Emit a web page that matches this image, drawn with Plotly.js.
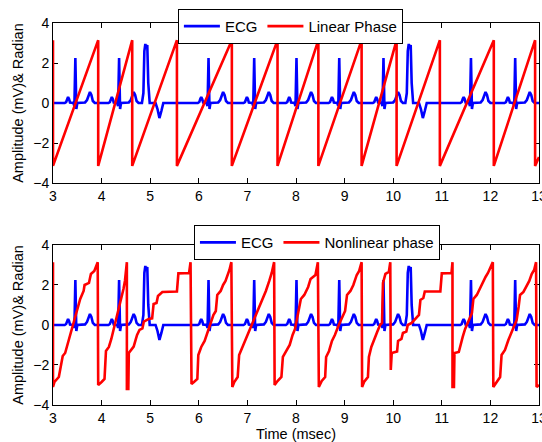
<!DOCTYPE html>
<html>
<head>
<meta charset="utf-8">
<script src="https://cdn.plot.ly/plotly-3.0.1.min.js"></script>
<style>html,body{margin:0;padding:0;background:#fff;}#chart{width:542px;height:442px;}</style>
</head>
<body>
<div id="chart"></div>
<script>
// ---- data ----
const xTickVals = [3, 4, 5, 6, 7, 8, 9, 10, 11, 12, 13];
const yTickVals = [-4, -2, 0, 2, 4];

// ECG: times of normal beats (R peaks) and of ectopic (wide) beats, msec axis units
const normalBeatTimes = [3.46, 4.36, 6.2, 7.14, 8.01, 8.89, 9.80, 11.6, 12.51];
const ectopicBeatTimes = [4.91, 10.33];
// shape of one normal beat: offset from R peak and amplitude (mV)
const normalBeatDt = [-0.22, -0.19, -0.17, -0.15, -0.13, -0.11, -0.04, -0.02, 0, 0.02, 0.04, 0.07, 0.2, 0.24, 0.27, 0.3, 0.33, 0.36, 0.4];
const normalBeatMv = [0, 0.05, 0.2, 0.3, 0.2, 0.02, 0, -0.15, 2.25, -0.3, 0, 0, 0.03, 0.15, 0.4, 0.55, 0.4, 0.1, 0];
// shape of one ectopic beat
const ectopicBeatDt = [-0.08, -0.05, -0.03, -0.01, 0.01, 0.03, 0.05, 0.08, 0.2, 0.24, 0.28, 0.32, 0.36];
const ectopicBeatMv = [0, 0.5, 2.6, 2.95, 2.75, 2.9, 1.0, 0, 0, -0.3, -0.75, -0.4, 0];

// Linear phase: wrap times (phase jumps from +pi to -pi)
const linearWrapTimes = [3.0, 3.93, 4.63, 5.55, 6.68, 7.62, 8.46, 9.35, 10.07, 10.96, 12.07, 12.92];
const linearEndTime = 13.0;
const linearEndPhase = -2.7;

// Nonlinear phase: vertices
const nonlinTime = [
  3.0, 3.0, 3.03, 3.12, 3.2, 3.25, 3.56, 3.6, 3.63, 3.65, 3.74, 3.78, 3.85, 3.92,
  3.93, 4.0, 4.06, 4.09, 4.15, 4.2, 4.28, 4.4, 4.45, 4.48, 4.5, 4.52,
  4.52, 4.55, 4.56, 4.6, 4.66, 4.7, 4.73, 4.78, 4.84, 4.87, 4.97, 5.04, 5.07, 5.13, 5.16, 5.25, 5.55, 5.58, 5.8, 5.83,
  5.85, 5.9, 5.97, 5.99, 6.05, 6.12, 6.18, 6.25, 6.3, 6.35, 6.38, 6.45, 6.5, 6.55, 6.6, 6.63, 6.67,
  6.69, 6.73, 6.8, 6.83, 6.9, 6.95, 7.05, 7.1, 7.2, 7.3, 7.38, 7.45, 7.5, 7.55,
  7.56, 7.62, 7.7, 7.73, 7.8, 7.87, 7.93, 7.98, 8.02, 8.1, 8.17, 8.25, 8.3, 8.4, 8.45,
  8.47, 8.53, 8.6, 8.62, 8.68, 8.74, 8.8, 8.88, 8.95, 9.01, 9.05, 9.12, 9.18, 9.25, 9.3, 9.35,
  9.36, 9.4, 9.48, 9.5, 9.55, 9.6, 9.67, 9.73, 9.77, 9.79, 9.84, 9.91, 9.94,
  9.95, 9.97, 10.08, 10.1, 10.17, 10.2, 10.27, 10.3, 10.38, 10.45, 10.53, 10.56, 10.62, 10.65, 10.97, 11.0, 11.2, 11.22,
  11.22, 11.25, 11.26, 11.35, 11.38, 11.43, 11.48, 11.55, 11.62, 11.65, 11.72, 11.78, 11.85, 11.9, 11.95, 12.05,
  12.06, 12.13, 12.2, 12.23, 12.3, 12.37, 12.47, 12.54, 12.58, 12.61, 12.68, 12.75, 12.8, 12.85, 12.9, 12.94,
  12.95, 13.0
];
const nonlinPhase = [
  3.14, -3.1, -2.85, -2.6, -1.55, -1.4, 1.3, 1.5, 1.7, 2.0, 2.1, 2.55, 2.7, 3.14,
  -3.0, -2.85, -2.7, -1.3, -1.1, -0.7, 0.1, 1.2, 1.8, 2.2, 2.6, 3.14,
  -3.2, -3.2, -1.4, -1.25, -1.08, -0.75, -0.5, -0.25, -0.17, 0.17, 0.3, 0.33, 1.05, 1.1, 1.45, 1.65, 1.67, 2.58, 2.6, 3.14,
  -2.95, -2.85, -2.7, -1.5, -1.1, -0.8, -0.4, 0.1, 0.5, 0.7, 1.5, 1.7, 2.0, 2.2, 2.5, 2.75, 3.14,
  -3.1, -2.85, -2.6, -1.5, -1.1, -0.8, -0.2, 0.1, 0.6, 1.2, 1.7, 2.2, 2.6, 3.14,
  -3.0, -2.8, -2.6, -1.6, -1.3, -1.0, -0.5, -0.2, 0.3, 1.3, 1.5, 1.9, 2.3, 2.5, 3.14,
  -3.1, -2.8, -2.6, -1.6, -1.3, -0.8, -0.5, 0, 0.4, 0.7, 1.5, 1.7, 2.0, 2.5, 2.7, 3.14,
  -3.1, -2.85, -2.6, -1.6, -1.1, -0.75, -0.35, 0, 0.1, 2.1, 2.55, 2.65, 3.14,
  -2.25, -1.4, -1.33, -0.8, -0.7, -0.4, -0.33, 0, 0.1, 0.3, 0.5, 1.25, 1.35, 1.67, 1.67, 2.58, 2.6, 3.14,
  -3.1, -3.1, -1.4, -1.35, -1.0, -0.6, -0.2, 0.2, 0.6, 1.3, 1.5, 1.8, 2.2, 2.4, 2.6, 3.14,
  -3.1, -2.85, -2.6, -1.5, -1.25, -0.75, -0.1, 0.25, 0.9, 1.5, 1.65, 2.0, 2.2, 2.55, 2.75, 3.14,
  -3.1, -3.0
];

// ---- build traces from the data ----
function buildEcg() {
  const events = [];
  normalBeatTimes.forEach(t => events.push({t: t, dt: normalBeatDt, v: normalBeatMv}));
  ectopicBeatTimes.forEach(t => events.push({t: t, dt: ectopicBeatDt, v: ectopicBeatMv}));
  events.sort((a, b) => a.t - b.t);
  const x = [3.0], y = [0];
  events.forEach(e => {
    e.dt.forEach((d, i) => { x.push(e.t + d); y.push(e.v[i]); });
  });
  x.push(13.0); y.push(0);
  return {x: x, y: y};
}
function buildLinear() {
  const x = [], y = [];
  linearWrapTimes.forEach(w => { x.push(w, w); y.push(Math.PI, -Math.PI); });
  x.push(linearEndTime); y.push(linearEndPhase);
  return {x: x, y: y};
}
const ecg = buildEcg();
const lin = buildLinear();

const BLUE = '#0000ff', RED = '#ff0000';
const FONT = 'Liberation Sans, Arial, Helvetica, sans-serif';

const traces = [
  {x: ecg.x, y: ecg.y, xaxis: 'x', yaxis: 'y', type: 'scatter', mode: 'lines', name: 'ECG',
   line: {color: BLUE, width: 2.6}, legend: 'legend'},
  {x: lin.x, y: lin.y, xaxis: 'x', yaxis: 'y', type: 'scatter', mode: 'lines', name: 'Linear Phase',
   line: {color: RED, width: 2.6}, legend: 'legend'},
  {x: ecg.x, y: ecg.y, xaxis: 'x2', yaxis: 'y2', type: 'scatter', mode: 'lines', name: 'ECG',
   line: {color: BLUE, width: 2.6}, legend: 'legend2'},
  {x: nonlinTime, y: nonlinPhase, xaxis: 'x2', yaxis: 'y2', type: 'scatter', mode: 'lines', name: 'Nonlinear phase',
   line: {color: RED, width: 2.6}, legend: 'legend2'}
];

const axisCommon = {
  showline: true, linecolor: '#000', linewidth: 1, mirror: 'ticks',
  ticks: 'inside', ticklen: 5, tickcolor: '#000', tickwidth: 1,
  showgrid: false, zeroline: false, layer: 'below traces',
  ticklabeloverflow: 'allow',
  tickfont: {family: FONT, size: 14, color: '#000'}
};

const legendCommon = {orientation: 'h', xanchor: 'left', yanchor: 'top', itemwidth: 36,
  bgcolor: '#fff', bordercolor: '#000', borderwidth: 1, font: {family: FONT, size: 15}};

const layout = {
  width: 542, height: 442,
  margin: {l: 53, r: 3, t: 23, b: 37},
  paper_bgcolor: '#fff', plot_bgcolor: '#fff',
  font: {family: FONT, size: 14, color: '#000'},
  xaxis: Object.assign({}, axisCommon, {range: [3, 13], tickvals: xTickVals, anchor: 'y', domain: [0, 1]}),
  yaxis: Object.assign({}, axisCommon, {range: [-4, 4], tickvals: yTickVals, anchor: 'x', domain: [0.581, 1],
    title: {text: 'Amplitude (mV)& Radian', font: {family: FONT, size: 14.5}, standoff: 6}}),
  xaxis2: Object.assign({}, axisCommon, {range: [3, 13], tickvals: xTickVals, anchor: 'y2', domain: [0, 1],
    title: {text: 'Time (msec)', font: {family: FONT, size: 14.5}, standoff: 2}}),
  yaxis2: Object.assign({}, axisCommon, {range: [-4, 4], tickvals: yTickVals, anchor: 'x2', domain: [0, 0.419],
    title: {text: 'Amplitude (mV)& Radian', font: {family: FONT, size: 14.5}, standoff: 6}}),
  legend: Object.assign({}, legendCommon, {x: 0.257, y: 1.037}),
  legend2: Object.assign({}, legendCommon, {x: 0.29, y: 0.471}),
  showlegend: true
};

Plotly.newPlot('chart', traces, layout, {displayModeBar: false, staticPlot: true});
</script>
</body>
</html>
